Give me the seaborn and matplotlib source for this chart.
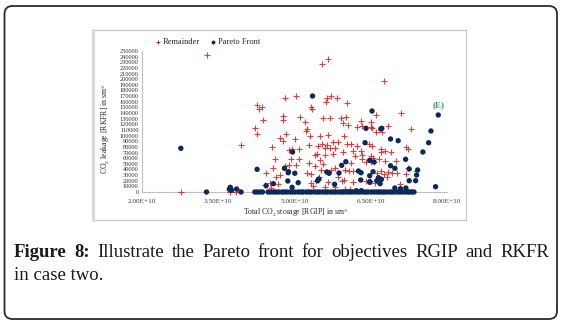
import numpy as np
import pandas as pd
import matplotlib
matplotlib.use("Agg")
import matplotlib.pyplot as plt
import seaborn as sns
from matplotlib.patches import FancyBboxPatch, Rectangle
from matplotlib.lines import Line2D
from matplotlib.ticker import FuncFormatter

# ---------------- data (RGIP in units of 1E+10 sm3, RKFR in sm3) ----------------
remainder_rgip_e10 = [
    2.764, 3.269, 3.855, 3.737, 3.875, 3.948, 4.270, 4.295, 4.368, 4.822,
    4.777, 4.769, 4.374, 4.230, 4.270, 4.724, 4.777, 4.836, 4.566, 4.887,
    4.625, 4.580, 4.809, 4.882, 4.447, 4.645, 4.526, 4.670, 4.546, 5.547,
    5.651, 5.034, 5.612, 5.645, 5.711, 5.835, 6.032, 5.316, 5.349, 5.105,
    5.559, 5.691, 5.908, 6.007, 5.953, 6.052, 5.197, 6.309, 6.506, 6.514,
    6.230, 6.336, 5.237, 5.217, 5.296, 5.499, 5.665, 5.980, 5.014, 5.764,
    5.862, 5.645, 5.283, 5.454, 5.539, 6.032, 6.119, 6.224, 6.460, 5.697,
    5.789, 5.606, 5.085, 4.941, 6.145, 6.303, 5.953, 5.434, 5.401, 5.592,
    5.764, 6.198, 6.336, 4.927, 5.079, 6.540, 6.328, 6.105, 5.283, 5.499,
    5.559, 5.395, 5.034, 6.415, 6.500, 5.717, 5.796, 5.987, 6.072, 6.159,
    5.251, 5.330, 5.513, 5.487, 5.454, 5.414, 5.658, 5.855, 5.934, 5.981,
    6.159, 5.322, 5.361, 5.592, 5.803, 5.987, 6.092, 6.407, 6.494, 6.751,
    6.599, 7.086, 6.520, 6.613, 6.731, 6.841, 7.284, 6.534, 7.185, 7.224,
    6.697, 6.776, 6.703, 6.889, 6.514, 6.658, 6.565, 6.790, 6.987, 7.236,
    6.697, 6.830, 6.632, 6.926, 7.019, 7.185, 7.382, 6.761, 6.810, 6.678,
    6.579, 7.072, 4.421, 4.724,
]
remainder_rkfr = [
    0, 242900, 500, 500, 5300, 83300, 154300, 147200, 150700, 167200,
    134800, 127100, 127700, 112900, 103400, 96300, 89900, 102800, 80300, 73900,
    58500, 43100, 46600, 47900, 33700, 26600, 16500, 13700, 6600, 227500,
    235800, 169700, 159000, 167200, 170700, 166700, 157800, 151200, 147700, 133000,
    131200, 131200, 130700, 132400, 122900, 118300, 124100, 126400, 124600, 114700,
    115200, 117500, 111200, 108200, 99300, 99300, 100500, 99300, 94500, 89200,
    88700, 83300, 83300, 82100, 84600, 84600, 84600, 82100, 84600, 77500,
    78500, 77500, 75700, 75700, 72700, 73200, 70900, 66800, 65600, 66100,
    66800, 63800, 65600, 59000, 59000, 60800, 58000, 50900, 51900, 56700,
    49600, 46600, 48400, 53700, 53700, 39500, 42000, 38500, 37200, 37200,
    34200, 31400, 38500, 26100, 21300, 20000, 18300, 26100, 19000, 20700,
    17200, 16500, 10100, 8900, 9400, 4800, 5300, 19000, 19500, 196800,
    136000, 140600, 114000, 106900, 106900, 117500, 111200, 82100, 80300, 75700,
    76200, 72700, 70900, 70900, 63800, 58000, 53700, 54400, 55500, 43100,
    36700, 35500, 33200, 33700, 34200, 31400, 37800, 31400, 27100, 22500,
    15400, 13700, 12400, 30700,
]

pareto_rgip_e10 = [
    2.764, 3.269, 3.717, 3.737, 3.763, 3.861, 3.948, 4.264, 4.441, 4.585,
    4.803, 4.876, 4.868, 5.355, 6.525, 6.407, 6.388, 4.961, 6.480, 6.565,
    6.010, 5.928, 5.875, 5.789, 5.635, 5.681, 6.257, 6.309, 4.882, 5.006,
    5.480, 5.454, 5.073, 6.303, 6.484, 4.953, 6.217, 6.316, 7.828, 7.684,
    6.717, 6.697, 6.889, 7.039, 7.639, 7.526, 7.185, 6.889, 6.974, 7.256,
    7.422, 7.402, 6.545, 6.480, 6.651, 6.711, 7.256, 7.382, 6.618, 6.684,
    7.191, 7.086, 6.974, 7.775, 6.480,
]
pareto_rkfr = [
    77500, 0, 4800, 8300, 3000, 5300, 0, 40200, 11200, 14700,
    42000, 34200, 19500, 170200, 143600, 112900, 87400, 70900, 56200, 53200,
    53700, 47300, 33700, 13700, 35500, 33200, 37200, 34200, 36000, 33200,
    23000, 20000, 16500, 21300, 17200, 8300, 2300, 2300, 136500, 108200,
    112900, 111700, 94000, 91000, 87400, 70900, 58000, 46600, 42000, 40800,
    39000, 30100, 36000, 28900, 25400, 22500, 20000, 20000, 20000, 14700,
    7100, 5900, 7100, 9400, 18300,
]
# Pareto solutions lying on the zero-leakage line
pareto_zero_rgip_e10 = [
    4.22, 4.27, 4.32, 4.37, 4.48, 4.53, 4.59, 4.64, 4.69, 4.75,
    4.80, 4.85, 4.91, 4.96, 5.01, 5.07, 5.12, 5.17, 5.23, 5.28,
    5.33, 5.39, 5.44, 5.49, 5.55, 5.60, 5.65, 5.71, 5.76, 5.81,
    5.87, 5.92, 5.97, 6.03, 6.08, 6.13, 6.19, 6.24, 6.29, 6.35,
    6.40, 6.45, 6.51, 6.56, 6.61, 6.66, 6.70, 6.75, 6.80, 6.86,
    6.91, 6.96, 7.02, 7.07, 7.12, 7.18, 7.23, 7.27, 7.31, 7.35,
]

x_ticks = [2.0e10, 3.5e10, 5.0e10, 6.5e10, 8.0e10]
y_ticks = list(range(0, 260000, 10000))
legend_labels = ["Remainder", "Pareto Front"]
point_E = (7.83e10, 153700)

RED = "#d42020"
BLUE = "#0b2a5b"
GREEN = "#22a55a"

df_rem = pd.DataFrame({"RGIP": np.array(remainder_rgip_e10) * 1e10,
                       "RKFR": remainder_rkfr})
df_par = pd.DataFrame({
    "RGIP": np.array(pareto_rgip_e10 + pareto_zero_rgip_e10) * 1e10,
    "RKFR": pareto_rkfr + [0] * len(pareto_zero_rgip_e10),
})

# ---------------- style ----------------
sns.set_style("white")
plt.rcParams["font.family"] = ["Liberation Serif", "DejaVu Serif"]
plt.rcParams["mathtext.fontset"] = "custom"
plt.rcParams["mathtext.rm"] = "Liberation Serif"
plt.rcParams["mathtext.it"] = "Liberation Serif:italic"

W, H = 564, 324
fig = plt.figure(figsize=(W / 100, H / 100), dpi=100)


def fx(px):
    return px / W


def fy(py):
    return 1 - py / H


# outer rounded frame
outer = FancyBboxPatch((0.045, 0.05), 5.525, 3.13,
                       boxstyle="round,pad=0,rounding_size=0.08",
                       transform=fig.dpi_scale_trans, fill=False,
                       edgecolor="#2b2b2b", linewidth=1.3)
fig.patches.append(outer)

# inner chart frame
inner = Rectangle((0.92, 1.04), 3.74, 1.90, transform=fig.dpi_scale_trans,
                  fill=False, edgecolor="#c4c4c4", linewidth=0.8)
fig.patches.append(inner)
fig.lines.append(Line2D([0.93, 0.93], [1.04, 2.94], transform=fig.dpi_scale_trans,
                        color="#d9d9d9", linewidth=2.2))

# ---------------- axes ----------------
ax = fig.add_axes([fx(142), fy(192), (447 - 142) / W, (192 - 51) / H])
ax.set_facecolor("none")

sns.scatterplot(data=df_rem, x="RGIP", y="RKFR", marker="+", s=15,
                linewidth=0.8, color=RED, ax=ax, legend=False,
                zorder=4, clip_on=False, alpha=0.85)
sns.scatterplot(data=df_par, x="RGIP", y="RKFR", marker="o", s=15,
                color=BLUE, edgecolor="none", linewidth=0, ax=ax,
                legend=False, zorder=5, clip_on=False)

ax.set_xlim(2e10, 8e10)
ax.set_ylim(0, 250000)
ax.set_xticks(x_ticks)
ax.set_yticks(y_ticks)
ax.xaxis.set_major_formatter(FuncFormatter(lambda v, p: f"{v:.2E}"))
ax.yaxis.set_major_formatter(FuncFormatter(lambda v, p: f"{int(v)}"))
ax.tick_params(axis="x", length=0, labelsize=5.2, pad=5, colors="#404040")
ax.tick_params(axis="y", length=0, labelsize=4.6, pad=2.5, colors="#333333")
for side in ("top", "right"):
    ax.spines[side].set_visible(False)
for side in ("left", "bottom"):
    ax.spines[side].set_color("#bfbfbf")
    ax.spines[side].set_linewidth(0.8)
ax.grid(False)
ax.set_xlabel("")
ax.set_ylabel("")

fig.text(fx(295), fy(212.5), r"Total CO$_2$ storage [RGIP] in sm$^3$",
         ha="center", va="center", fontsize=5.6, color="#262626")
fig.text(fx(105), fy(129), r"CO$_2$ leakage [RKFR] in sm$^3$",
         ha="center", va="center", rotation=90, fontsize=5.6, color="#262626")

ax.text(point_E[0], point_E[1], "(E)", color=GREEN, fontweight="bold",
        fontsize=6.5, ha="center", va="center")

handles = [
    Line2D([], [], marker="+", ls="none", color=RED, ms=3.5, mew=0.7),
    Line2D([], [], marker="o", ls="none", color=BLUE, ms=2.8, mew=0),
]
fig.legend(handles, legend_labels, loc="center",
           bbox_to_anchor=(fx(208), fy(42.5)), ncol=2, frameon=False,
           fontsize=6, handlelength=0.6, handletextpad=0.3,
           columnspacing=1.3, borderpad=0, labelcolor="#262626")

# ---------------- caption (justified first line) ----------------
renderer = fig.canvas.get_renderer()
line1 = [("Figure", "bold"), ("8:", "bold"), ("Illustrate", "normal"),
         ("the", "normal"), ("Pareto", "normal"), ("front", "normal"),
         ("for", "normal"), ("objectives", "normal"), ("RGIP", "normal"),
         ("and", "normal"), ("RKFR", "normal")]
texts = [fig.text(0, fy(256.7), w, fontsize=13.5, fontweight=wt,
                  va="baseline", ha="left", color="#1a1a1a")
         for w, wt in line1]
widths = [t.get_window_extent(renderer).width for t in texts]
x0, x1 = 14, 549
gap = (x1 - x0 - sum(widths)) / (len(texts) - 1)
xc = x0
for t, w in zip(texts, widths):
    t.set_x(xc / W)
    xc += w + gap
fig.text(fx(14), fy(280), "in case two.", fontsize=13.5, va="baseline",
         ha="left", color="#1a1a1a")

fig.savefig("out.png", dpi=100)
